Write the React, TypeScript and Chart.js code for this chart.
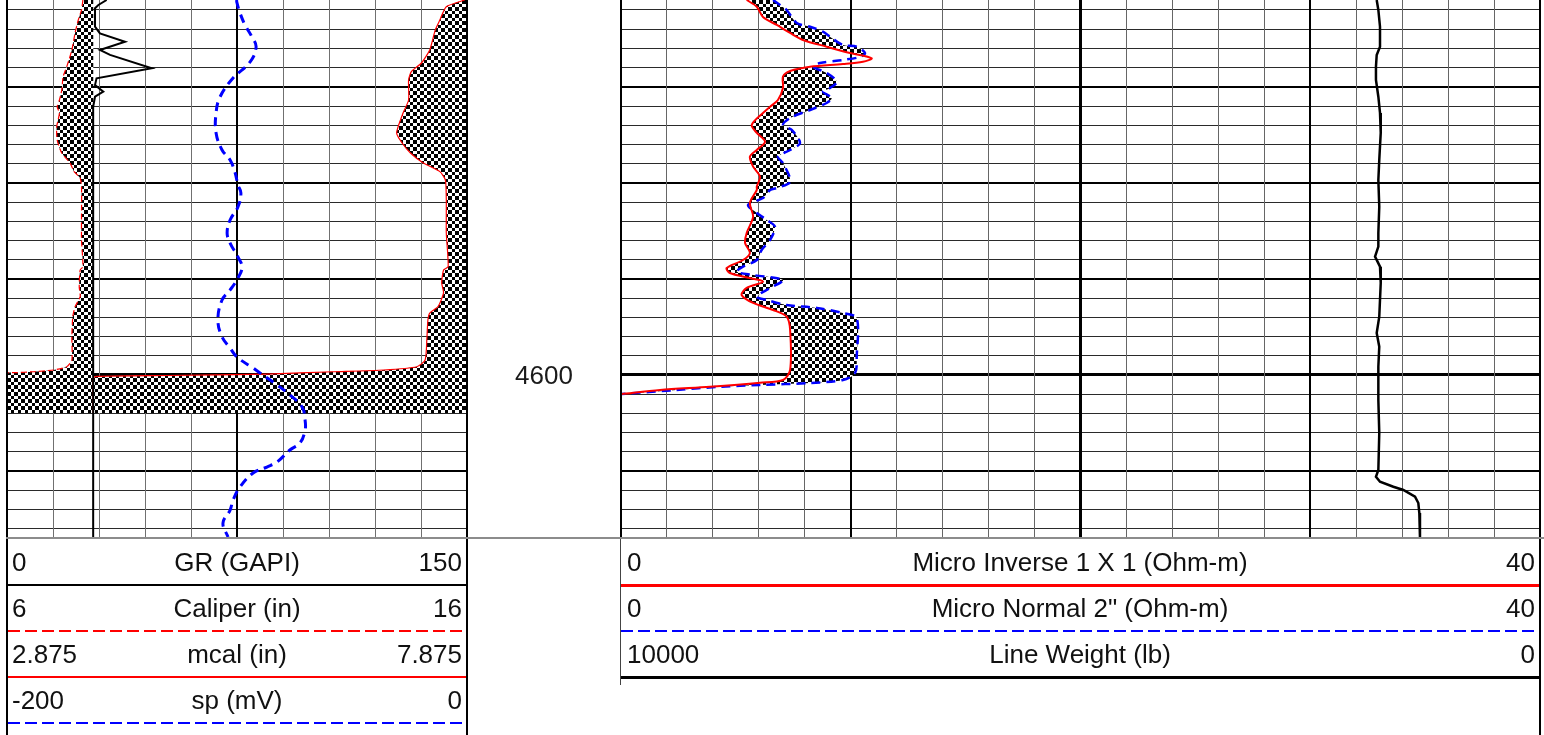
import React, { useEffect, useRef } from 'react';
import { Chart, registerables } from 'chart.js';

Chart.register(...registerables);

// ---------------- depth axis ----------------
const DEPTH_TOP = 4560.96;
const DEPTH_BOTTOM = 4616.97;
const DEPTH_STEP = 2;
const DEPTH_LABELS = [4600];
const BIT_SIZE = 7.875;

// ---------------- curve ranges (header min / max) ----------------
const GR_RANGE = [0, 150];
const CAL_RANGE = [6, 16];
const MCAL_RANGE = [2.875, 7.875];
const SP_RANGE = [-200, 0];
const MINV_RANGE = [0, 40];
const MNOR_RANGE = [0, 40];
const LW_RANGE = [10000, 0];

// ---------------- GR (GAPI) ----------------
const grDepth = [4560.96, 4561.48, 4561.82, 4563.74, 4564.43, 4565.3, 4566.16, 4566.68, 4568.07, 4569.11, 4569.81, 4570.5, 4571.03, 4572.07, 4580, 4590, 4600, 4610, 4616.97];
const grValues = [32.5, 29.8, 28.7, 28.7, 30.3, 38.5, 30.3, 33.6, 47.2, 29.2, 28.7, 31.4, 28.7, 28.1, 28.1, 28.1, 28.1, 28.1, 28.1];

// ---------------- Caliper (in) ----------------
const calDepth = [4560.96, 4562.0, 4563.04, 4564.39, 4566.16, 4567.9, 4568.94, 4570.33, 4571.37, 4572.07, 4572.72, 4574.15, 4575.53, 4576.89, 4577.93, 4578.83, 4579.49, 4580.4, 4583.13, 4585.94, 4588.72, 4589.07, 4590.81, 4591.85, 4592.89, 4593.93, 4596.01, 4598.44, 4599.14, 4599.48, 4599.66, 4599.76, 4599.82, 4603.96];
const calValues = [7.65, 7.62, 7.55, 7.48, 7.41, 7.3, 7.22, 7.19, 7.14, 7.09, 7.14, 7.08, 7.09, 7.19, 7.37, 7.46, 7.59, 7.62, 7.62, 7.62, 7.65, 7.59, 7.57, 7.59, 7.48, 7.43, 7.41, 7.41, 7.3, 7.01, 6.57, 6.17, 6.0, 6.0];

// ---------------- mcal (in) ----------------
const mcalDepth = [4560.96, 4561.66, 4563.04, 4564.08, 4566.16, 4567.52, 4568.42, 4569.29, 4571.37, 4572.72, 4574.8, 4575.85, 4576.89, 4577.93, 4578.83, 4579.7, 4581.78, 4585.22, 4588.72, 4589.07, 4590.42, 4591.46, 4592.89, 4593.55, 4594.27, 4596.01, 4598.44, 4599.14, 4599.48, 4599.66, 4599.9, 4600.05, 4600.16, 4600.52, 4603.96];
const mcalValues = [7.85, 7.65, 7.58, 7.53, 7.47, 7.38, 7.27, 7.24, 7.24, 7.18, 7.11, 7.17, 7.26, 7.4, 7.58, 7.64, 7.65, 7.65, 7.67, 7.62, 7.6, 7.62, 7.56, 7.47, 7.45, 7.44, 7.42, 7.33, 6.97, 6.42, 5.7, 4.61, 3.83, 3.81, 3.81];

// ---------------- sp (mV) ----------------
const spDepth = [4560.96, 4561.27, 4562.31, 4563.56, 4564.81, 4565.85, 4567.41, 4569.08, 4571.06, 4572.72, 4574.8, 4576.57, 4577.62, 4578.87, 4580.22, 4581.05, 4582.51, 4583.86, 4585.22, 4586.26, 4587.71, 4588.76, 4589.9, 4591.15, 4592.19, 4594.27, 4596.04, 4597.19, 4598.13, 4599.27, 4599.79, 4601.04, 4602.08, 4603.33, 4604.69, 4605.73, 4607.08, 4607.81, 4609.06, 4609.58, 4610.2, 4611.66, 4613.01, 4614.06, 4615.41, 4616.87];
const spValues = [-100.2, -100.0, -98.7, -96.5, -93.5, -91.7, -94.3, -101.7, -107.4, -109.1, -109.1, -106.5, -103.0, -100.9, -99.6, -98.3, -99.6, -103.0, -104.3, -103.0, -99.6, -97.8, -99.6, -103.0, -106.5, -108.3, -106.5, -103.0, -100.0, -93.0, -90.0, -82.6, -77.0, -71.7, -70.4, -70.4, -72.6, -77.0, -82.6, -87.0, -93.0, -98.7, -101.7, -103.0, -106.1, -103.9];

// ---------------- Micro Inverse 1 X 1 (Ohm-m) ----------------
const minvDepth = [4560.96, 4561.66, 4562.73, 4563.56, 4564.39, 4565.12, 4565.82, 4566.48, 4567.03, 4567.38, 4567.62, 4567.9, 4568.35, 4568.94, 4570.12, 4571.37, 4572.07, 4572.72, 4573.97, 4574.8, 4575.71, 4576.57, 4577.27, 4578.31, 4579.35, 4580.4, 4580.74, 4582.09, 4583.52, 4585.22, 4586.26, 4587.3, 4588.03, 4588.86, 4589.38, 4589.9, 4590.29, 4590.94, 4591.67, 4592.5, 4593.23, 4593.93, 4595.31, 4599.48, 4600.52, 4600.8, 4601.22, 4601.56, 4601.98];
const minvValues = [5.47, 5.91, 6.18, 6.78, 7.36, 7.92, 8.95, 9.97, 10.91, 10.53, 9.66, 8.23, 7.36, 7.05, 7.05, 6.83, 6.49, 6.18, 5.69, 5.91, 6.27, 5.91, 5.61, 5.75, 6.05, 5.91, 5.91, 5.61, 5.75, 5.47, 5.4, 5.61, 5.31, 4.6, 4.74, 5.61, 6.18, 5.47, 5.25, 5.75, 6.62, 7.21, 7.36, 7.36, 7.05, 6.05, 3.87, 1.7, 0.03];

// ---------------- Micro Normal 2" (Ohm-m) ----------------
const mnorDepth = [4560.96, 4561.48, 4562.0, 4563.35, 4563.74, 4564.26, 4564.91, 4565.64, 4565.82, 4566.48, 4566.89, 4567.2, 4567.52, 4567.9, 4568.56, 4569.46, 4570.12, 4570.5, 4571.16, 4571.68, 4572.41, 4573.24, 4573.97, 4574.49, 4575.85, 4576.57, 4577.27, 4577.93, 4579.87, 4580.53, 4580.74, 4581.57, 4582.3, 4583.13, 4583.86, 4584.56, 4585.94, 4586.99, 4588.03, 4588.72, 4589.25, 4589.59, 4590.11, 4590.94, 4591.85, 4592.19, 4592.71, 4593.02, 4593.55, 4594.07, 4598.09, 4599.79, 4600.52, 4600.83, 4601.04, 4601.22, 4601.56, 4601.98];
const mnorValues = [6.62, 6.92, 7.21, 7.65, 8.23, 8.79, 9.17, 9.66, 10.26, 10.62, 10.4, 9.66, 8.66, 8.36, 8.95, 9.39, 9.1, 8.79, 9.17, 8.95, 8.23, 7.36, 7.05, 7.43, 7.79, 7.36, 6.83, 7.05, 7.36, 6.78, 6.49, 6.18, 5.53, 5.91, 6.34, 6.7, 6.49, 6.12, 5.91, 5.31, 5.04, 5.75, 7.05, 6.49, 5.91, 6.34, 7.21, 8.52, 9.66, 10.26, 10.26, 10.19, 9.66, 8.23, 6.05, 4.31, 2.42, 0.03];

// ---------------- Line Weight (lb) ----------------
const lwDepth = [4560.96, 4562.0, 4563.74, 4565.82, 4566.68, 4567.9, 4569.29, 4571.03, 4572.72, 4574.8, 4577.62, 4579.7, 4582.48, 4585.22, 4586.64, 4587.68, 4588.72, 4590.42, 4593.93, 4595.63, 4597.05, 4599.14, 4602.6, 4606.04, 4609.89, 4610.59, 4611.11, 4611.63, 4611.97, 4612.67, 4613.33, 4614.37, 4616.97];
const lwValues = [1777, 1759, 1741, 1741, 1777, 1785, 1785, 1759, 1741, 1733, 1749, 1759, 1749, 1759, 1759, 1795, 1741, 1733, 1749, 1777, 1749, 1759, 1759, 1749, 1759, 1785, 1741, 1596, 1487, 1360, 1324, 1313, 1306];

// ---------------- header labels ----------------
const leftHeaderNames = ['GR (GAPI)', 'Caliper (in)', 'mcal (in)', 'sp (mV)'];
const leftHeaderRanges = [GR_RANGE, CAL_RANGE, MCAL_RANGE, SP_RANGE];
const rightHeaderNames = ['Micro Inverse 1 X 1 (Ohm-m)', 'Micro Normal 2" (Ohm-m)', 'Line Weight (lb)'];
const rightHeaderRanges = [MINV_RANGE, MNOR_RANGE, LW_RANGE];

// ---------------- styles ----------------
const FONT = '"Liberation Sans", Arial, Helvetica, sans-serif';
const RED = '#ff0000';
const BLUE = '#0000ff';
const leftHeaderLines = [
  { color: '#000', dash: false, h: 2 },
  { color: RED, dash: true, h: 2 },
  { color: RED, dash: false, h: 2 },
  { color: BLUE, dash: true, h: 2 },
];
const rightHeaderLines = [
  { color: RED, dash: false, h: 3 },
  { color: BLUE, dash: true, h: 2 },
  { color: '#000', dash: false, h: 3 },
];

type Pt = { x: number; y: number };
const zip = (depth: number[], vals: number[]): Pt[] => {
  const n = Math.min(depth.length, vals.length);
  const out: Pt[] = [];
  for (let i = 0; i < n; i++) out.push({ x: vals[i], y: depth[i] });
  return out;
};

function checkerPattern(ctx: CanvasRenderingContext2D): CanvasPattern | string {
  const c = document.createElement('canvas');
  c.width = 14;
  c.height = 14;
  const g = c.getContext('2d');
  if (!g) return '#888';
  g.fillStyle = '#fff';
  g.fillRect(0, 0, 14, 14);
  g.fillStyle = '#000';
  const e = [0, 4, 7, 11, 14];
  for (let i = 0; i < 4; i++) {
    for (let j = 0; j < 4; j++) {
      if ((i + j) % 2 === 0) g.fillRect(e[i], e[j], e[i + 1] - e[i], e[j + 1] - e[j]);
    }
  }
  return ctx.createPattern(c, 'repeat') || '#888';
}

const logFillPlugin = {
  id: 'logFill',
  beforeDatasetsDraw(chart: any, _args: any, opts: any) {
    const ctx = chart.ctx as CanvasRenderingContext2D;
    const area = chart.chartArea;
    if (!chart.$checker) chart.$checker = checkerPattern(ctx);
    const pattern = chart.$checker;
    const trace = (idx: number) => {
      const line = chart.getDatasetMeta(idx).dataset;
      line.updateControlPoints(area, 'y');
      line.path(ctx);
      const pts = line.points;
      return { first: pts[0], last: pts[pts.length - 1] };
    };
    ctx.save();
    ctx.beginPath();
    ctx.rect(area.left, area.top, area.right - area.left, area.bottom - area.top);
    ctx.clip();
    for (const f of opts.toValue || []) {
      const edge = chart.scales[f.scale].getPixelForValue(f.value);
      ctx.beginPath();
      const r = trace(f.dataset);
      ctx.lineTo(edge, r.last.y);
      ctx.lineTo(edge, r.first.y);
      ctx.closePath();
      ctx.fillStyle = pattern;
      ctx.fill();
    }
    for (const p of opts.between || []) {
      ctx.save();
      ctx.beginPath();
      let r = trace(p.right);
      ctx.lineTo(area.left - 2, r.last.y);
      ctx.lineTo(area.left - 2, r.first.y);
      ctx.closePath();
      ctx.clip();
      ctx.beginPath();
      r = trace(p.left);
      ctx.lineTo(area.right + 2, r.last.y);
      ctx.lineTo(area.right + 2, r.first.y);
      ctx.closePath();
      ctx.fillStyle = pattern;
      ctx.fill();
      ctx.restore();
    }
    ctx.restore();
  },
  afterDatasetsDraw(chart: any, _args: any, opts: any) {
    const ctx = chart.ctx as CanvasRenderingContext2D;
    const a = chart.chartArea;
    ctx.save();
    ctx.strokeStyle = '#000';
    ctx.lineWidth = opts.borderWidth || 2;
    ctx.beginPath();
    ctx.moveTo(a.left, a.top);
    ctx.lineTo(a.left, a.bottom);
    ctx.moveTo(a.right, a.top);
    ctx.lineTo(a.right, a.bottom);
    ctx.stroke();
    ctx.restore();
  },
};

const depthLabelPlugin = {
  id: 'depthLabels',
  afterDraw(chart: any, _args: any, opts: any) {
    if (!opts || !opts.labels) return;
    const ctx = chart.ctx as CanvasRenderingContext2D;
    const y = chart.scales.y;
    const cx = (chart.chartArea.right + chart.width) / 2;
    ctx.save();
    ctx.font = '26px ' + FONT;
    ctx.fillStyle = '#1a1a1a';
    ctx.textAlign = 'center';
    ctx.textBaseline = 'middle';
    for (const d of opts.labels) ctx.fillText(String(d), cx, y.getPixelForValue(d) + 2);
    ctx.restore();
  },
};

const depthScale = () => ({
  type: 'linear',
  min: DEPTH_TOP,
  max: DEPTH_BOTTOM,
  reverse: true,
  border: { display: false },
  ticks: { display: false, stepSize: DEPTH_STEP, includeBounds: false },
  grid: {
    drawTicks: false,
    color: (c: any) => {
      const v = c.tick ? c.tick.value : 0;
      return v % 10 === 0 ? '#000' : '#2a2a2a';
    },
    lineWidth: (c: any) => {
      const v = c.tick ? c.tick.value : 0;
      if (v === 4600) return 3;
      return v % 10 === 0 ? 2 : 1;
    },
  },
});

const hidden = (range: number[], reverse = false) => ({
  type: 'linear',
  display: false,
  min: Math.min(range[0], range[1]),
  max: Math.max(range[0], range[1]),
  reverse,
});

function LeftTrack() {
  const ref = useRef<HTMLCanvasElement>(null);
  useEffect(() => {
    if (!ref.current) return;
    const chart = new Chart(ref.current, {
      type: 'line',
      data: {
        datasets: [
          { label: 'Caliper', data: zip(calDepth, calValues), xAxisID: 'xCal', yAxisID: 'y', borderColor: RED, borderWidth: 1.2, borderDash: [6, 3], pointRadius: 0, tension: 0.2, fill: false, order: 2 },
          { label: 'mcal', data: zip(mcalDepth, mcalValues), xAxisID: 'xMcal', yAxisID: 'y', borderColor: RED, borderWidth: 1.2, pointRadius: 0, tension: 0.2, fill: false, order: 3 },
          { label: 'GR', data: zip(grDepth, grValues), xAxisID: 'xGR', yAxisID: 'y', borderColor: '#000', borderWidth: 2, pointRadius: 0, tension: 0, fill: false, order: 1 },
          { label: 'sp', data: zip(spDepth, spValues), xAxisID: 'xSP', yAxisID: 'y', borderColor: BLUE, borderWidth: 3, borderDash: [9, 6], pointRadius: 0, tension: 0.4, fill: false, order: 0 },
        ],
      } as any,
      options: {
        animation: false,
        responsive: false,
        maintainAspectRatio: false,
        indexAxis: 'y',
        layout: { padding: { left: 7, right: 154, top: 0, bottom: 3 } },
        events: [],
        plugins: {
          legend: { display: false },
          tooltip: { enabled: false },
          logFill: {
            toValue: [
              { dataset: 0, scale: 'xCal', value: BIT_SIZE },
              { dataset: 1, scale: 'xMcal', value: BIT_SIZE },
            ],
            borderWidth: 2,
          },
          depthLabels: { labels: DEPTH_LABELS },
        },
        scales: {
          y: depthScale(),
          xGR: {
            type: 'linear',
            position: 'bottom',
            min: GR_RANGE[0],
            max: GR_RANGE[1],
            border: { display: false },
            ticks: { display: false, stepSize: 15 },
            grid: {
              drawTicks: false,
              color: (c: any) => {
                const v = c.tick ? c.tick.value : 0;
                return v === 75 || v === 0 || v === 150 ? '#000' : '#707070';
              },
              lineWidth: (c: any) => {
                const v = c.tick ? c.tick.value : 0;
                return v === 75 || v === 0 || v === 150 ? 2 : 1;
              },
            },
          },
          xCal: hidden(CAL_RANGE),
          xMcal: hidden(MCAL_RANGE),
          xSP: hidden(SP_RANGE),
        },
      } as any,
      plugins: [logFillPlugin, depthLabelPlugin] as any,
    });
    return () => chart.destroy();
  }, []);
  return <canvas ref={ref} width={621} height={541} style={{ position: 'absolute', left: 0, top: 0, width: 621, height: 541 }} />;
}

function RightTrack() {
  const ref = useRef<HTMLCanvasElement>(null);
  useEffect(() => {
    if (!ref.current) return;
    const chart = new Chart(ref.current, {
      type: 'line',
      data: {
        datasets: [
          { label: 'Micro Inverse 1 X 1', data: zip(minvDepth, minvValues), xAxisID: 'xMI', yAxisID: 'y', borderColor: RED, borderWidth: 2, pointRadius: 0, tension: 0.3, fill: false },
          { label: 'Micro Normal 2"', data: zip(mnorDepth, mnorValues), xAxisID: 'xMN', yAxisID: 'y', borderColor: BLUE, borderWidth: 2.5, borderDash: [9, 6], pointRadius: 0, tension: 0.3, fill: false },
          { label: 'Line Weight', data: zip(lwDepth, lwValues), xAxisID: 'xLW', yAxisID: 'y', borderColor: '#000', borderWidth: 2.5, pointRadius: 0, tension: 0, fill: false },
        ],
      } as any,
      options: {
        animation: false,
        responsive: false,
        maintainAspectRatio: false,
        indexAxis: 'y',
        layout: { padding: { left: 9, right: 4, top: 0, bottom: 3 } },
        events: [],
        plugins: {
          legend: { display: false },
          tooltip: { enabled: false },
          logFill: { between: [{ left: 0, right: 1 }], borderWidth: 2 },
        },
        scales: {
          y: depthScale(),
          xMI: {
            type: 'linear',
            position: 'bottom',
            min: MINV_RANGE[0],
            max: MINV_RANGE[1],
            border: { display: false },
            ticks: { display: false, stepSize: 2 },
            grid: {
              drawTicks: false,
              color: (c: any) => {
                const v = c.tick ? c.tick.value : 0;
                return v % 10 === 0 ? '#000' : '#666666';
              },
              lineWidth: (c: any) => {
                const v = c.tick ? c.tick.value : 0;
                if (v === 20) return 3;
                return v % 10 === 0 ? 2 : 1;
              },
            },
          },
          xMN: hidden(MNOR_RANGE),
          xLW: hidden(LW_RANGE, true),
        },
      } as any,
      plugins: [logFillPlugin] as any,
    });
    return () => chart.destroy();
  }, []);
  return <canvas ref={ref} width={932} height={541} style={{ position: 'absolute', left: 612, top: 0, width: 932, height: 541 }} />;
}

const lineBg = (color: string, dash: boolean) =>
  dash ? `repeating-linear-gradient(90deg, ${color} 0px, ${color} 12px, transparent 12px, transparent 17px)` : color;

function HeaderRow(props: { top: number; name: string; min: string; max: string; color: string; dash: boolean; h: number; padL: number; padR: number }) {
  const { top, name, min, max, color, dash, h, padL, padR } = props;
  const text: React.CSSProperties = { position: 'absolute', top: 0, height: 44, lineHeight: '44px', fontSize: 26, fontFamily: FONT, color: '#111', whiteSpace: 'nowrap' };
  return (
    <div style={{ position: 'absolute', left: 0, right: 0, top, height: 46 }}>
      <span style={{ ...text, left: padL }}>{min}</span>
      <span style={{ ...text, left: 0, right: 0, textAlign: 'center' }}>{name}</span>
      <span style={{ ...text, right: padR }}>{max}</span>
      <div style={{ position: 'absolute', left: 0, right: 0, top: 44, height: h, background: lineBg(color, dash) }} />
    </div>
  );
}

export default function App() {
  return (
    <div style={{ position: 'absolute', left: 0, top: 0, width: 1544, height: 735, background: '#fff', overflow: 'hidden' }}>
      <LeftTrack />
      <RightTrack />
      <div style={{ position: 'absolute', left: 6, top: 537, width: 1538, height: 2, background: '#8c8c8c' }} />
      <div style={{ position: 'absolute', left: 6, top: 539, width: 462, height: 196, borderLeft: '2px solid #000', borderRight: '2px solid #000', boxSizing: 'border-box' }}>
        {leftHeaderNames.map((n, i) => (
          <HeaderRow key={n} top={1 + i * 46} name={n} min={String(leftHeaderRanges[i][0])} max={String(leftHeaderRanges[i][1])} color={leftHeaderLines[i].color} dash={leftHeaderLines[i].dash} h={leftHeaderLines[i].h} padL={4} padR={4} />
        ))}
      </div>
      <div style={{ position: 'absolute', left: 620, top: 539, width: 1, height: 146, background: '#444' }} />
      <div style={{ position: 'absolute', left: 621, top: 539, width: 920, height: 196, borderRight: '2px solid #000', boxSizing: 'border-box' }}>
        {rightHeaderNames.map((n, i) => (
          <HeaderRow key={n} top={1 + i * 46} name={n} min={String(rightHeaderRanges[i][0])} max={String(rightHeaderRanges[i][1])} color={rightHeaderLines[i].color} dash={rightHeaderLines[i].dash} h={rightHeaderLines[i].h} padL={6} padR={4} />
        ))}
      </div>
    </div>
  );
}
